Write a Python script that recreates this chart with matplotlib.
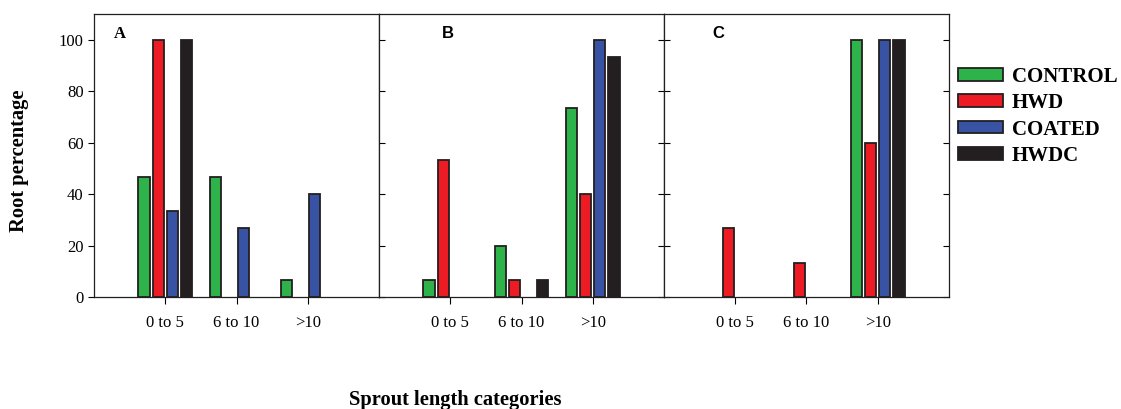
import numpy as np
import matplotlib
matplotlib.use('Agg')
import matplotlib.pyplot as plt
from matplotlib.patches import Patch

# data
categories = ['0 to 5', '6 to 10', '>10']
series = ['CONTROL', 'HWD', 'COATED', 'HWDC']
colors = ['#2db34a', '#ed1c24', '#3953a4', '#231f20']
panels = ['A', 'B', 'C']

control = [[46.7, 46.7, 6.7], [6.7, 20.0, 73.3], [0, 0, 100]]
hwd = [[100, 0, 0], [53.3, 6.7, 40.0], [26.7, 13.3, 60.0]]
coated = [[33.3, 26.7, 40.0], [0, 0, 100], [0, 0, 100]]
hwdc = [[100, 0, 0], [0, 6.7, 93.3], [0, 0, 100]]
values = [control, hwd, coated, hwdc]

plt.rcParams['font.family'] = ['Liberation Serif', 'DejaVu Serif']

fig = plt.figure(figsize=(11.21, 4.09), dpi=100)

left = 94 / 1121
w = 285 / 1121
bottom = 1 - 297 / 409
h = (297 - 14) / 409

x = np.arange(1, 4)
pitch = 0.197
bw = 0.16

for p in range(3):
    ax = fig.add_axes([left + p * w, bottom, w, h])
    for s in range(4):
        v = np.array(values[s][p])
        lw = np.where(v > 0, 1.3, 0)
        ax.bar(x + (s - 1.5) * pitch, v, width=bw, color=colors[s],
               edgecolor='#231f20', linewidth=lw, zorder=3)
    ax.set_xlim(0, 4)
    ax.set_ylim(0, 110)
    ax.set_xticks(x)
    ax.set_xticklabels(categories, fontsize=12)
    ax.tick_params(axis='x', length=5, pad=8, direction='out')
    ax.set_yticks([0, 20, 40, 60, 80, 100])
    ax.tick_params(axis='y', length=4, direction='in', right=True, left=True)
    if p == 0:
        ax.tick_params(axis='y', direction='out', labelsize=12)
        ax.text(0.09, 0.93, 'A', transform=ax.transAxes, fontsize=12,
                fontweight='bold', ha='center', va='center')
    else:
        ax.set_yticklabels([])
        ax.text(0.24 if p == 1 else 0.19, 0.93, panels[p], transform=ax.transAxes,
                fontsize=12, fontweight='bold', ha='center', va='center',
                family='Liberation Sans')
    for sp in ax.spines.values():
        sp.set_linewidth(0.9)
        sp.set_color('#231f20')

fig.text(0.017, 0.606, 'Root percentage', rotation=90, fontsize=14.8,
         fontweight='bold', ha='center', va='center')
fig.text(455 / 1121, 1 - 400 / 409, 'Sprout length categories', fontsize=14.8,
         fontweight='bold', ha='center', va='center')

handles = [Patch(facecolor=c, edgecolor='#231f20', linewidth=1.3) for c in colors]
leg = fig.legend(handles, series, loc='upper left', bbox_to_anchor=(941 / 1121, 1 - 50 / 409),
                 frameon=False, handlelength=2.16, handleheight=0.55, labelspacing=0.31,
                 handletextpad=0.45, borderpad=0.3, prop={'size': 15, 'weight': 'bold'})

fig.savefig('out.png', dpi=100)
